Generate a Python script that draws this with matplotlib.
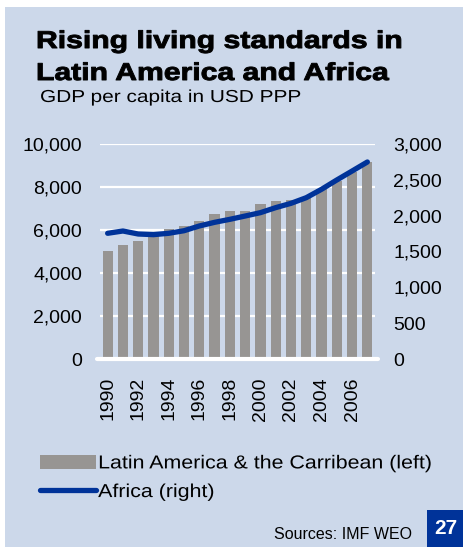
import numpy as np
import matplotlib
matplotlib.use("Agg")
import matplotlib.pyplot as plt
import matplotlib.patheffects as pe
from matplotlib.patches import Rectangle, Patch
from matplotlib.lines import Line2D
from matplotlib.ticker import FuncFormatter
from matplotlib.transforms import Affine2D

plt.rcParams['font.family'] = ['Liberation Sans', 'DejaVu Sans']

years = list(range(1990, 2008))
latam = [5000, 5300, 5500, 5700, 6050, 6200, 6400, 6750, 6900, 6880,
         7200, 7350, 7400, 7500, 7900, 8300, 8700, 9150]
africa = [1754, 1786, 1744, 1735, 1754, 1790, 1856, 1907, 1949, 1995,
          2042, 2112, 2172, 2251, 2368, 2498, 2623, 2749]
xlabels = [str(y) if y % 2 == 0 else "" for y in years]

BG = "#ccd8ea"
BAR = "#979593"
LINE = "#003399"


class HStretch(pe.AbstractPathEffect):
    """Widen glyphs horizontally (the original uses a wider typeface)."""
    def __init__(self, sx, stroke=0):
        super().__init__()
        self.sx = sx
        self.stroke = stroke

    def draw_path(self, renderer, gc, tpath, affine, rgbFace=None):
        tr = Affine2D().scale(self.sx, 1) + affine
        if self.stroke and rgbFace is not None:
            gc0 = renderer.new_gc()
            gc0.copy_properties(gc)
            gc0.set_linewidth(self.stroke)
            gc0.set_foreground(rgbFace)
            gc0.set_joinstyle("round")
            renderer.draw_path(gc0, tpath, tr, rgbFace)
            gc0.restore()
        else:
            renderer.draw_path(gc, tpath, tr, rgbFace)


W, H = 464, 547
fig = plt.figure(figsize=(W / 100, H / 100), dpi=100)
fig.patch.set_facecolor("white")
fig.add_artist(Rectangle((5 / W, 0), 1 - 5 / W, 1 - 7 / H,
                         transform=fig.transFigure, facecolor=BG,
                         edgecolor="none", zorder=-10))

ax = fig.add_axes([100 / W, 1 - 359 / H, 275 / W, 215 / H])
ax.patch.set_alpha(0)
x = np.arange(len(years))
ax.bar(x, latam, width=0.67, color=BAR, zorder=2)
ax.set_xlim(-0.5, len(years) - 0.5)
ax.set_ylim(0, 10000)
ax.set_yticks(range(0, 10001, 2000))
ax.yaxis.set_major_formatter(FuncFormatter(lambda v, p: f"{v:,.0f}"))
ax.set_xticks(x)
ax.set_xticklabels(xlabels, rotation=90)
for v in range(2000, 10001, 2000):
    ax.axhline(v, color="white", lw=1.6, zorder=1)
ax.axhline(0, xmin=-0.01, xmax=1.01, color="white", lw=3, zorder=4,
           solid_capstyle="round", clip_on=False)
for s in ax.spines.values():
    s.set_visible(False)
ax.tick_params(axis="both", length=0, labelsize=14, colors="black")
ax.tick_params(axis="y", pad=13)
ax.tick_params(axis="x", pad=13)

ax2 = ax.twinx()
ax2.plot(x, africa, color=LINE, lw=3.8, solid_capstyle="round",
         solid_joinstyle="round", zorder=5)
ax2.set_ylim(0, 3000)
ax2.set_yticks(range(0, 3001, 500))
ax2.yaxis.set_major_formatter(FuncFormatter(lambda v, p: f"{v:,.0f}"))
for s in ax2.spines.values():
    s.set_visible(False)
ax2.tick_params(axis="y", length=0, labelsize=14, pad=13)

title_fx = [HStretch(1.24, stroke=0.7)]
fig.text(36 / W, 1 - 48 / H, "Rising living standards in", fontsize=17.5,
         fontweight="heavy", va="baseline", path_effects=title_fx)
fig.text(36 / W, 1 - 80 / H, "Latin America and Africa", fontsize=17.5,
         fontweight="heavy", va="baseline", path_effects=title_fx)
fig.text(40 / W, 1 - 102 / H, "GDP per capita in USD PPP", fontsize=12.5,
         va="baseline", path_effects=[HStretch(1.2)])

handles = [Patch(facecolor=BAR, edgecolor="none"),
           Line2D([0], [0], color=LINE, lw=3.8, solid_capstyle="round")]
leg = fig.legend(handles, ["Latin America & the Carribean (left)", "Africa (right)"],
                 loc="upper left", bbox_to_anchor=(40 / W, 1 - 455 / H),
                 frameon=False, fontsize=13.5, handlelength=3.0,
                 handleheight=0.75, handletextpad=0.1, labelspacing=0.6,
                 borderpad=0, borderaxespad=0)
for t in leg.get_texts():
    t.set_path_effects([HStretch(1.14)])

fig.text(412 / W, 1 - 539 / H, "Sources: IMF WEO", fontsize=11.5, ha="right",
         va="baseline")
fig.add_artist(Rectangle((427 / W, 0), 37 / W, 37 / H,
                         transform=fig.transFigure, facecolor="#003399",
                         edgecolor="none"))
fig.text(445.5 / W, 18.5 / H, "27", fontsize=15, fontweight="bold",
         color="white", ha="center", va="center")

fig.savefig("out.png", dpi=100, facecolor=fig.get_facecolor())
